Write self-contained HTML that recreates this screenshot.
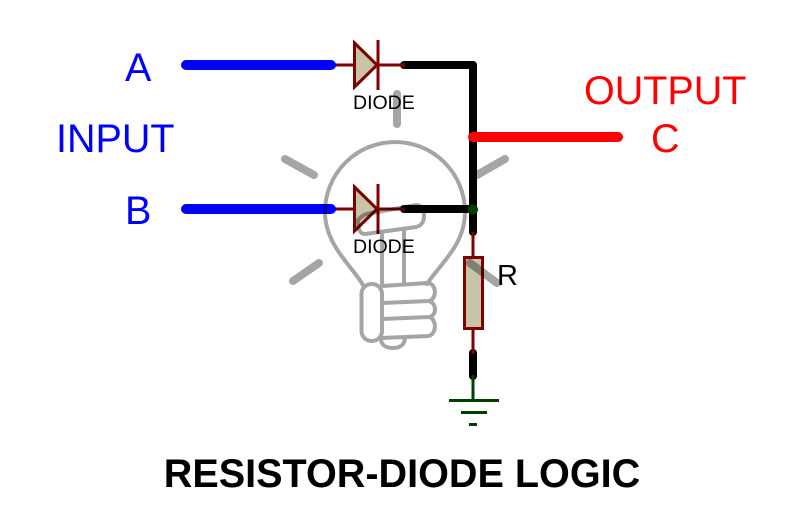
<!DOCTYPE html>
<html>
<head>
<meta charset="utf-8">
<style>
html,body{margin:0;padding:0;background:#fff;width:790px;height:506px;overflow:hidden}
svg{display:block}
text{font-family:"Liberation Sans",sans-serif}
</style>
</head>
<body>
<svg width="790" height="506" viewBox="0 0 790 506" xmlns="http://www.w3.org/2000/svg">
<!-- component leads -->
<g stroke="#800000" stroke-width="3" fill="none">
<path d="M334 65H402M334 209H402M473 232V258M473 328V352"/>
</g>
<!-- wires -->
<g fill="none" stroke-linecap="round" stroke-linejoin="round" stroke-width="8">
<path d="M473 140V232" stroke="#000"/>
<path d="M404 65H473V140" stroke="#000"/>
<path d="M404 209H473" stroke="#000"/>
<path d="M473 353V376" stroke="#000"/>
<path d="M186 65H331M186 209H331" stroke="#0000ff" stroke-width="10"/>
<path d="M473 137H618" stroke="#ff0000" stroke-width="10"/>
</g>
<path d="M400 65H405M400 209H405M473 232V238M473 348V354" stroke="#800000" stroke-width="3"/>
<!-- diodes -->
<g fill="#c8c4a8" stroke="#800000" stroke-width="3">
<path d="M354.500 43V87L377 65Z"/>
<path d="M378 40V90" fill="none"/>
<path d="M354.500 187V231L377 209Z"/>
<path d="M378 184V234" fill="none"/>
<rect x="464.500" y="257.500" width="18" height="71"/>
</g>
<!-- ground -->
<g stroke="#004000" stroke-width="3" fill="none">
<path d="M473 375V400M449 400.500H499M461 412.500H487M469 424.500H477"/>
</g>
<circle cx="473" cy="209.500" r="5" fill="#004000"/>
<!-- bulb watermark -->
<g style="mix-blend-mode:multiply" fill="none" stroke="#a5a5a5" stroke-width="4" stroke-linecap="round" stroke-linejoin="round">
<path d="M363 285C352 266 325 245 325 212A70 70 0 0 1 465 212C465 245 440 264 427 284"/>
<path d="M358 220C362 216 364 214 372 213L416 205C422 205 424 210 424 216C424 222 421 226 416 227L365 234C360 234 358 230 358 220Z"/>
<path d="M382 233V285M404 229V284"/>
<rect x="361.500" y="284" width="20.500" height="57" rx="10"/>
<path d="M382 286L428 283C437 284 437 299 429 301L382 303M429 301C437 303 437 316 429 317L382 319M429 317C437 319 437 335 428 336L382 338"/>
<path d="M381 339C381 345 386 348 393 348C400 348 405 345 405 337"/>
<g stroke-width="8">
<path d="M397 94V124"/>
<path d="M285 159L314 175"/>
<path d="M293 281L319 263"/>
<path d="M477 175L505 159"/>
<path d="M470 263L497 283"/>
</g>
</g>
<!-- labels -->
<g font-size="39.500">
<text x="125" y="81" fill="#0000ff">A</text>
<text x="56" y="152" fill="#0000ff">INPUT</text>
<text x="125" y="224" fill="#0000ff">B</text>
<text x="584" y="104" fill="#ff0000">OUTPUT</text>
<text x="651" y="152" fill="#ff0000">C</text>
</g>
<g font-size="19.500" fill="#000">
<text x="353" y="109">DIODE</text>
<text x="353" y="253">DIODE</text>
</g>
<text x="497" y="285" font-size="29" fill="#000">R</text>
<text x="402" y="487" font-size="39.600" font-weight="700" fill="#000" text-anchor="middle">RESISTOR-DIODE LOGIC</text>
</svg>
</body>
</html>
